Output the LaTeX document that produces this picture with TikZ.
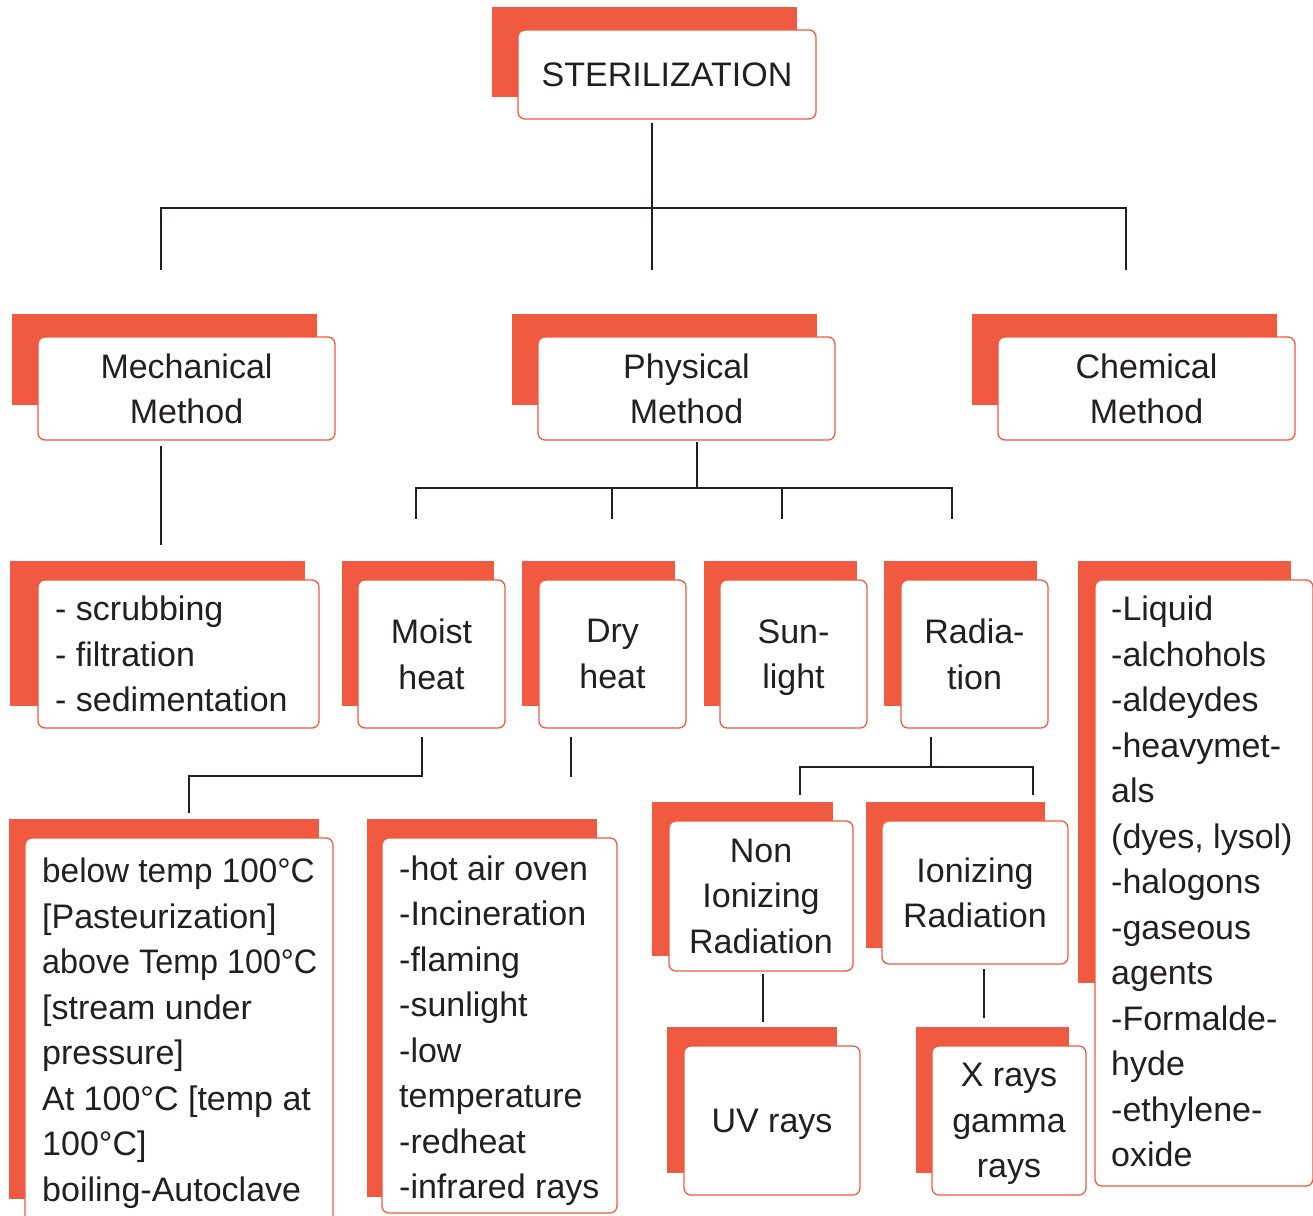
\documentclass[tikz,border=0pt]{standalone}
\usepackage{fontspec}
\setmainfont{Liberation Sans}
\definecolor{tileorange}{RGB}{240,90,64}
\definecolor{ink}{RGB}{35,31,32}
\begin{document}
\begin{tikzpicture}[x=1pt,y=-1pt,
  card/.style={draw=tileorange, line width=1.3pt, fill=white, rounded corners=7pt,
    inner sep=0pt, align=center, text=ink, text depth=0pt,
    font=\fontsize{34}{45.5}\selectfont},
  listtext/.style={anchor=west, inner sep=0pt, align=left, text=ink, text depth=0pt,
    font=\fontsize{34}{45.5}\selectfont},
  backing/.style={fill=tileorange},
  link/.style={draw=ink, line width=2.6pt}]
\useasboundingbox (0,0) rectangle (1313,1215);

% ---- level 0 ----
\fill[backing] (492,7) rectangle (797,97);
\node[card, minimum width=298pt, minimum height=89pt] (ster) at (667,74.5) {STERILIZATION};

% ---- level 1 ----
\fill[backing] (12,314) rectangle (317,405);
\node[card, minimum width=297pt, minimum height=103pt] (mech) at (186.5,388.5) {Mechanical\\Method};
\fill[backing] (512,314) rectangle (817,405);
\node[card, minimum width=297pt, minimum height=103pt] (phys) at (686.5,388.5) {Physical\\Method};
\fill[backing] (972,314) rectangle (1277,405);
\node[card, minimum width=297pt, minimum height=103pt] (chem) at (1146.5,388.5) {Chemical\\Method};

% ---- level 2 ----
\fill[backing] (10,561) rectangle (305,706);
\node[card, minimum width=281pt, minimum height=148pt] (mechlist) at (178.5,654) {};
\node[listtext] (mechtxt) at (55,654) {- scrubbing\\- filtration\\- sedimentation};

\fill[backing] (342,561) rectangle (494,706);
\node[card, minimum width=147pt, minimum height=148pt] (moist) at (431.5,654) {Moist\\heat};
\fill[backing] (522,561) rectangle (675,706);
\node[card, minimum width=147pt, minimum height=148pt] (dry) at (612.5,654) {Dry\\heat};
\fill[backing] (704,561) rectangle (857,706);
\node[card, minimum width=147pt, minimum height=148pt] (sun) at (793.5,654) {Sun-\\light};
\fill[backing] (884,561) rectangle (1037,706);
\node[card, minimum width=147pt, minimum height=148pt] (radia) at (974.5,654) {Radia-\\tion};

\fill[backing] (1078,561) rectangle (1291,983);
\node[card, minimum width=218pt, minimum height=606pt] (chemlist) at (1204,883) {};
\node[listtext] (chemtxt) at (1111,881.5) {-Liquid\\-alchohols\\-aldeydes\\-heavymet-\\als\\(dyes, lysol)\\-halogons\\-gaseous\\agents\\-Formalde-\\hyde\\-ethylene-\\oxide};

% ---- level 3 ----
\fill[backing] (9,819) rectangle (319,1199);
\node[card, minimum width=308pt, minimum height=387pt] (moistlist) at (179,1031.5) {};
\node[listtext] (moisttxt) at (42,1029.5) {\scalebox{0.98}[1]{below temp 100°C}\\{[Pasteurization]}\\\scalebox{0.95}[1]{above Temp 100°C}\\{[stream under}\\pressure]\\At 100°C {[temp at}\\100°C]\\boiling-Autoclave};

\fill[backing] (367,819) rectangle (597,1197);
\node[card, minimum width=235pt, minimum height=375pt] (drylist) at (499.5,1025.5) {};
\node[listtext] (drytxt) at (399,1027) {-hot air oven\\-Incineration\\-flaming\\-sunlight\\-low\\temperature\\-redheat\\-infrared rays};

\fill[backing] (652,802) rectangle (833,956);
\node[card, minimum width=184pt, minimum height=150pt] (nonion) at (761,896) {Non\\Ionizing\\Radiation};
\fill[backing] (866,802) rectangle (1045,948);
\node[card, minimum width=186pt, minimum height=143pt] (ion) at (975,892.5) {Ionizing\\Radiation};

% ---- level 4 ----
\fill[backing] (667,1027) rectangle (837,1173);
\node[card, minimum width=176pt, minimum height=149pt] (uv) at (772,1120.5) {UV rays};
\fill[backing] (916,1027) rectangle (1069,1173);
\node[card, minimum width=154pt, minimum height=149pt] (xray) at (1009,1120.5) {X rays\\gamma\\rays};

% ---- connector junctions ----
\coordinate (sterFoot) at (652,123);
\coordinate (busA) at (652,208);
\coordinate (mechTop) at (161,270);
\coordinate (physTop) at (652,270);
\coordinate (chemTop) at (1126,270);
\coordinate (mechFoot) at (161,446);
\coordinate (mechListTop) at (161,545);
\coordinate (physFoot) at (697,442);
\coordinate (busB) at (697,488);
\coordinate (moistTop) at (416,519);
\coordinate (dryTop) at (612,519);
\coordinate (sunTop) at (782,519);
\coordinate (radiaTop) at (952,519);
\coordinate (moistFoot) at (422,737);
\coordinate (busD) at (422,776);
\coordinate (moistListTop) at (189,813);
\coordinate (dryFoot) at (571,737);
\coordinate (dryListTop) at (571,777);
\coordinate (radiaFoot) at (931,737);
\coordinate (busC) at (931,767);
\coordinate (nonionTop) at (800,795);
\coordinate (ionTop) at (1033,795);
\coordinate (nonionFoot) at (763,974);
\coordinate (uvTop) at (763,1022);
\coordinate (ionFoot) at (984,969);
\coordinate (xrayTop) at (984,1018);

% ---- connectors ----
\draw[link] (sterFoot) -- (physTop);
\draw[link] (mechTop) |- (busA) -| (chemTop);
\draw[link] (mechFoot) -- (mechListTop);
\draw[link] (physFoot) -- (busB);
\draw[link] (moistTop) |- (busB) -| (radiaTop);
\draw[link] (dryTop) -- (dryTop |- busB);
\draw[link] (sunTop) -- (sunTop |- busB);
\draw[link] (moistFoot) -- (busD) -| (moistListTop);
\draw[link] (dryFoot) -- (dryListTop);
\draw[link] (radiaFoot) -- (busC);
\draw[link] (nonionTop) |- (busC) -| (ionTop);
\draw[link] (nonionFoot) -- (uvTop);
\draw[link] (ionFoot) -- (xrayTop);
\end{tikzpicture}
\end{document}
